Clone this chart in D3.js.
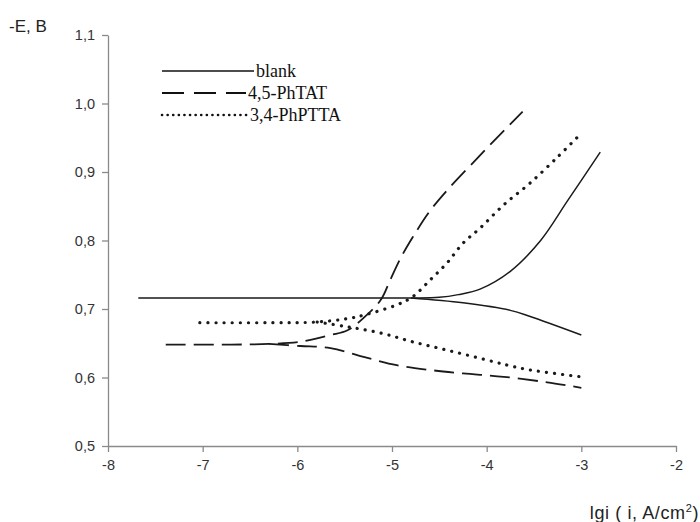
<!DOCTYPE html>
<html>
<head>
<meta charset="utf-8">
<script src="https://cdn.jsdelivr.net/npm/d3@7"></script>
<style>
  body { margin: 0; background: #fff; }
  .axis path, .axis line { stroke: #8a8a8a; stroke-width: 1.3; }
  .axis text { font-family: "Liberation Sans", Arial, sans-serif; font-size: 14.5px; fill: #333; }
  .curve { fill: none; stroke: #1a1a1a; }
  .legend text { font-family: "Liberation Serif", "Times New Roman", serif; font-size: 18px; fill: #111; }
  .label { font-family: "Liberation Sans", Arial, sans-serif; font-size: 17px; fill: #222; }
</style>
</head>
<body>
<svg width="700" height="522"></svg>
<script>
// tick values
var xTicks = [-8, -7, -6, -5, -4, -3, -2];
var yTicks = [0.5, 0.6, 0.7, 0.8, 0.9, 1.0, 1.1];

// series names
var seriesNames = ["blank", "4,5-PhTAT", "3,4-PhPTTA"];

// blank: anodic branch (with flat part) and cathodic branch
var blankAnodicX = [-7.68, -5.5, -4.8, -4.5, -4.3, -4.07, -3.75, -3.43, -3.15, -2.80];
var blankAnodicY = [0.716, 0.716, 0.716, 0.717, 0.721, 0.729, 0.755, 0.800, 0.857, 0.929];
var blankCathodicX = [-4.8, -4.25, -3.75, -3.54, -3.0];
var blankCathodicY = [0.716, 0.709, 0.698, 0.689, 0.662];

// 4,5-PhTAT
var phtatAnodicX = [-7.39, -6.7, -6.3, -5.97, -5.65, -5.47, -5.30, -5.12, -5.02, -4.91, -4.78, -4.60, -4.42, -4.10, -3.82, -3.62];
var phtatAnodicY = [0.648, 0.648, 0.649, 0.652, 0.662, 0.669, 0.687, 0.713, 0.742, 0.774, 0.805, 0.843, 0.873, 0.920, 0.960, 0.988];
var phtatCathodicX = [-6.3, -5.97, -5.65, -5.30, -4.95, -4.60, -4.25, -3.82, -3.36, -3.0];
var phtatCathodicY = [0.649, 0.646, 0.643, 0.630, 0.618, 0.611, 0.606, 0.601, 0.593, 0.585];

// 3,4-PhPTTA
var pptaAnodicX = [-7.03, -6.3, -5.79, -5.47, -5.30, -4.95, -4.78, -4.60, -4.42, -4.25, -4.07, -3.82, -3.54, -3.25, -3.04];
var pptaAnodicY = [0.680, 0.680, 0.681, 0.686, 0.691, 0.706, 0.718, 0.742, 0.767, 0.796, 0.818, 0.852, 0.884, 0.922, 0.951];
var pptaCathodicX = [-5.79, -5.47, -5.12, -4.78, -4.42, -4.07, -3.78, -3.54, -3.0];
var pptaCathodicY = [0.681, 0.674, 0.665, 0.652, 0.640, 0.628, 0.618, 0.611, 0.601];

var svg = d3.select("svg");

var x = d3.scaleLinear().domain([-8, -2]).range([108, 676]);
var y = d3.scaleLinear().domain([0.5, 1.1]).range([446, 35]);

function comma(d) { return d3.format(".1f")(d).replace(".", ","); }

svg.append("g")
    .attr("class", "axis")
    .attr("transform", "translate(0," + y(0.5) + ")")
    .call(d3.axisBottom(x).tickValues(xTicks).tickSize(6).tickSizeOuter(0)
        .tickFormat(function (d) { return String(d); }))
    .selectAll("text").attr("dy", "1.05em");

svg.append("g")
    .attr("class", "axis")
    .attr("transform", "translate(" + x(-8) + ",0)")
    .call(d3.axisLeft(y).tickValues(yTicks).tickSize(6).tickSizeOuter(0).tickFormat(comma))
    .selectAll("text").attr("x", -13);

function zip(xs, ys) {
    return xs.map(function (v, i) { return { x: v, y: ys[i] }; });
}

var line = d3.line()
    .x(function (d) { return x(d.x); })
    .y(function (d) { return y(d.y); })
    .curve(d3.curveCatmullRom.alpha(0.5));

var styles = [
    { width: 1.5, dash: null, cap: "butt" },
    { width: 1.8, dash: "20 8", cap: "butt" },
    { width: 3.2, dash: "0.1 8", cap: "round" }
];

var branches = [
    [zip(blankAnodicX, blankAnodicY), zip(blankCathodicX, blankCathodicY)],
    [zip(phtatAnodicX, phtatAnodicY), zip(phtatCathodicX, phtatCathodicY)],
    [zip(pptaAnodicX, pptaAnodicY), zip(pptaCathodicX, pptaCathodicY)]
];

branches.forEach(function (pair, i) {
    pair.forEach(function (data) {
        svg.append("path")
            .datum(data)
            .attr("class", "curve")
            .attr("d", line)
            .attr("stroke-width", styles[i].width)
            .attr("stroke-dasharray", styles[i].dash)
            .attr("stroke-linecap", styles[i].cap);
    });
});

// legend
var legend = svg.append("g").attr("class", "legend");
var legendStyles = [
    { width: 1.6, dash: null, cap: "butt", len: 92 },
    { width: 1.8, dash: "22 10", cap: "butt", len: 84 },
    { width: 2.6, dash: "0.1 5.5", cap: "round", len: 86 }
];
seriesNames.forEach(function (name, i) {
    var ly = 71 + i * 22;
    legend.append("line")
        .attr("x1", 162).attr("x2", 162 + legendStyles[i].len)
        .attr("y1", ly).attr("y2", ly)
        .attr("stroke", "#111")
        .attr("stroke-width", legendStyles[i].width)
        .attr("stroke-dasharray", legendStyles[i].dash)
        .attr("stroke-linecap", legendStyles[i].cap);
    legend.append("text")
        .text(name)
        .attr("x", 164 + legendStyles[i].len)
        .attr("y", ly + 6);
});

// axis titles
svg.append("text").attr("class", "label").text("-E, B").attr("x", 9).attr("y", 32);
var xl = svg.append("text").attr("class", "label")
    .attr("x", 699).attr("y", 519).attr("text-anchor", "end")
    .style("font-size", "18px").style("letter-spacing", "0.6px");
xl.append("tspan").text("lgi ( i, A/cm");
xl.append("tspan").text("2").attr("font-size", "11px").attr("dy", -7);
xl.append("tspan").text(")").attr("dy", 7);
</script>
</body>
</html>
